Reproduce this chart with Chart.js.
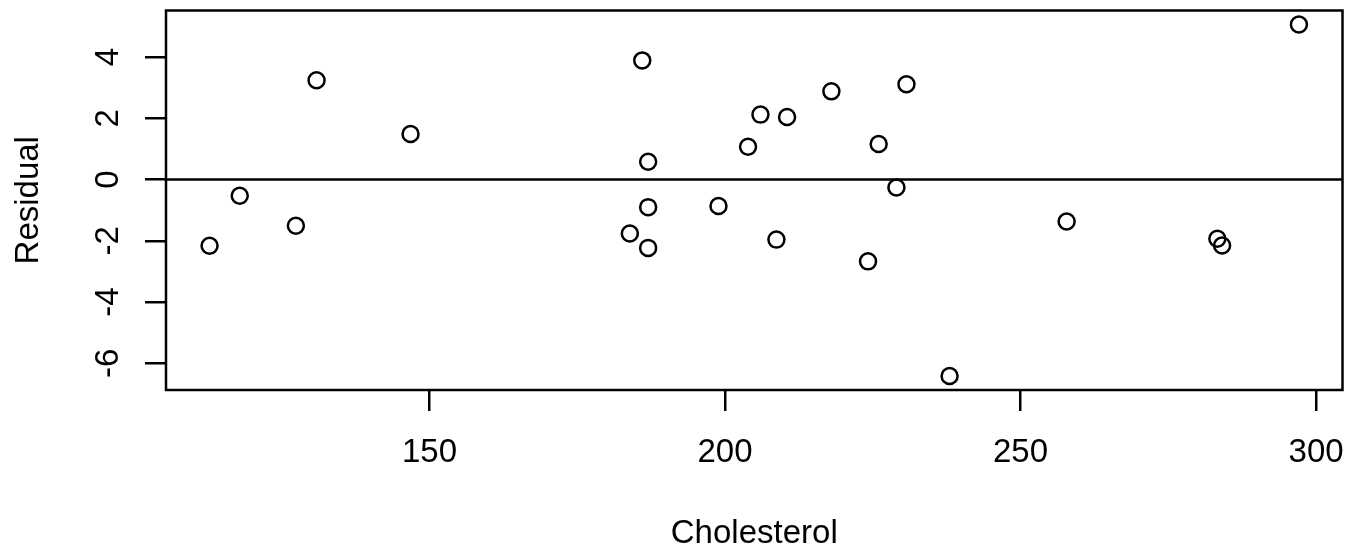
<!DOCTYPE html>
<html>
<head>
<meta charset="utf-8">
<script src="https://cdn.jsdelivr.net/npm/chart.js@4/dist/chart.umd.min.js"></script>
<style>
  html, body { margin: 0; padding: 0; background: #fff; }
  #wrap { width: 1353px; height: 546px; position: relative; }
</style>
</head>
<body>
<div id="wrap"><canvas id="c"></canvas></div>
<script>
// Cholesterol vs. residuals of the fitted model
const cholesterol = [112.8, 117.9, 127.4, 130.9, 146.8, 183.9, 186.0, 187.0, 187.0, 187.0,
                     198.9, 203.9, 206.0, 208.7, 210.5, 218.0, 224.2, 226.0, 229.0, 230.7,
                     238.0, 257.8, 283.3, 284.1, 297.1];
const residual = [-2.16, -0.53, -1.51, 3.24, 1.49, -1.76, 3.89, 0.58, -0.90, -2.23,
                  -0.86, 1.07, 2.12, -1.96, 2.04, 2.88, -2.67, 1.16, -0.26, 3.11,
                  -6.41, -1.37, -1.93, -2.15, 5.06];
const xTicks = [150, 200, 250, 300];
const yTicks = [-6, -4, -2, 0, 2, 4];
const xTitle = 'Cholesterol';
const yTitle = 'Residual';

// axis limits padded by 4% of the data range on each side
function padded(arr) {
  const lo = Math.min(...arr), hi = Math.max(...arr), r = hi - lo;
  return [lo - 0.04 * r, hi + 0.04 * r];
}
const [xLo, xHi] = padded(cholesterol);
const [yLo, yHi] = padded(residual);

const points = cholesterol.map((x, i) => ({ x: x, y: residual[i] }));
const FONT = '33px "Liberation Sans", Arial, Helvetica, sans-serif';
const LW = 2.5;

const frame = {
  id: 'frame',
  afterDraw(chart) {
    const { ctx, chartArea: a, scales } = chart;
    ctx.save();
    ctx.strokeStyle = '#000';
    ctx.lineWidth = LW;
    ctx.strokeRect(a.left, a.top, a.right - a.left, a.bottom - a.top);

    ctx.fillStyle = '#000';
    ctx.font = FONT;
    ctx.textAlign = 'center';
    ctx.textBaseline = 'alphabetic';
    xTicks.forEach(v => {
      ctx.fillText(String(v), scales.x.getPixelForValue(v), a.bottom + 72);
    });
    ctx.fillText(xTitle, (a.left + a.right) / 2, a.bottom + 153);

    yTicks.forEach(v => {
      ctx.save();
      ctx.translate(a.left - 48, scales.y.getPixelForValue(v));
      ctx.rotate(-Math.PI / 2);
      ctx.fillText(String(v), 0, 0);
      ctx.restore();
    });
    ctx.save();
    ctx.translate(a.left - 128, (a.top + a.bottom) / 2);
    ctx.rotate(-Math.PI / 2);
    ctx.fillText(yTitle, 0, 0);
    ctx.restore();
    ctx.restore();
  }
};

new Chart(document.getElementById('c'), {
  type: 'scatter',
  data: {
    datasets: [
      {
        data: points,
        pointStyle: 'circle',
        pointRadius: 8,
        pointHoverRadius: 8,
        pointBorderWidth: 2.5,
        pointBackgroundColor: 'rgba(0,0,0,0)',
        pointBorderColor: '#000'
      },
      {
        type: 'line',
        data: [{ x: xLo, y: 0 }, { x: xHi, y: 0 }],
        borderColor: '#000',
        borderWidth: LW,
        pointRadius: 0
      }
    ]
  },
  options: {
    responsive: true,
    maintainAspectRatio: false,
    devicePixelRatio: 1,
    animation: false,
    layout: { padding: { top: 10, right: 7, left: 0, bottom: 0 } },
    plugins: { legend: { display: false }, tooltip: { enabled: false } },
    scales: {
      x: {
        type: 'linear',
        min: xLo,
        max: xHi,
        afterBuildTicks: s => { s.ticks = xTicks.map(v => ({ value: v })); },
        afterFit: s => { s.height = 156; },
        grid: { drawOnChartArea: false, drawTicks: true, tickLength: 21, color: '#000', lineWidth: LW },
        border: { display: false },
        ticks: { display: false }
      },
      y: {
        type: 'linear',
        min: yLo,
        max: yHi,
        afterBuildTicks: s => { s.ticks = yTicks.map(v => ({ value: v })); },
        afterFit: s => { s.width = 166; },
        grid: { drawOnChartArea: false, drawTicks: true, tickLength: 21, color: '#000', lineWidth: LW },
        border: { display: false },
        ticks: { display: false }
      }
    }
  },
  plugins: [frame]
});
</script>
</body>
</html>
